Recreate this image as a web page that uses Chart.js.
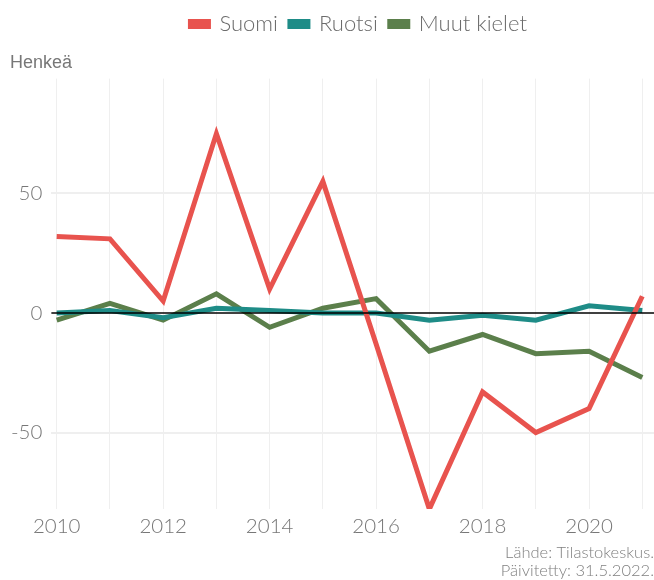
<!DOCTYPE html>
<html>
<head>
<meta charset="utf-8">
<script src="https://cdn.jsdelivr.net/npm/chart.js@4"></script>
<style>
  html, body { margin: 0; padding: 0; background: #fff; }
  #wrap { width: 654px; height: 580px; }
</style>
</head>
<body>
<div id="wrap"><canvas id="chart"></canvas></div>
<script>
var years = [2010, 2011, 2012, 2013, 2014, 2015, 2016, 2017, 2018, 2019, 2020, 2021];
var suomi = [32, 31, 5, 75, 10, 55, -13, -82, -33, -50, -40, 7];
var ruotsi = [0, 1, -2, 2, 1, 0, 0, -3, -1, -3, 3, 1];
var muut = [-3, 4, -3, 8, -6, 2, 6, -16, -9, -17, -16, -27];
var yTicks = [-50, 0, 50];

function points(vals) {
  return years.map(function (y, i) {
    return { x: y, y: vals[i] };
  });
}

var tickFont = { family: "Lato", size: 20.5, weight: 300 };
var grey = "#777";

// nollaviiva viivojen päälle, otsikko vasempaan reunaan, selite hieman oikealle
var extras = {
  id: "extras",
  afterLayout: function (chart) {
    if (chart.titleBlock) chart.titleBlock.left = 10;
    if (chart.legend) {
      chart.legend.left += 6;
      chart.legend.right += 6;
    }
  },
  afterDatasetsDraw: function (chart) {
    var ctx = chart.ctx;
    var area = chart.chartArea;
    var y0 = chart.scales.y.getPixelForValue(0);
    ctx.save();
    ctx.strokeStyle = "#000";
    ctx.lineWidth = 1.5;
    ctx.beginPath();
    ctx.moveTo(area.left, y0);
    ctx.lineTo(area.right, y0);
    ctx.stroke();
    ctx.restore();
  },
};

new Chart(document.getElementById("chart"), {
  type: "line",
  data: {
    datasets: [
      { label: "Suomi", data: points(suomi), borderColor: "#e8534e", backgroundColor: "#e8534e" },
      { label: "Ruotsi", data: points(ruotsi), borderColor: "#1e8c87", backgroundColor: "#1e8c87" },
      { label: "Muut kielet", data: points(muut), borderColor: "#5b7f4b", backgroundColor: "#5b7f4b" },
    ],
  },
  plugins: [extras],
  options: {
    responsive: true,
    maintainAspectRatio: false,
    animation: false,
    layout: { padding: { left: 2, right: 0, top: 1, bottom: 0 } },
    elements: {
      line: { borderWidth: 5, tension: 0, borderCapStyle: "butt" },
      point: { radius: 0 },
    },
    plugins: {
      legend: {
        position: "top",
        fullSize: false,
        labels: {
          boxWidth: 18,
          boxHeight: 5,
          padding: 12,
          color: "#6b6b6b",
          font: { family: "Lato", size: 22, weight: 300 },
        },
      },
      title: {
        display: true,
        text: "Henkeä",
        align: "start",
        weight: 500,
        color: "#777",
        font: { family: "Liberation Sans", size: 18, weight: "normal" },
        padding: { top: 7, bottom: 5 },
      },
      subtitle: {
        display: true,
        position: "bottom",
        align: "end",
        text: ["Lähde: Tilastokeskus.", "Päivitetty: 31.5.2022."],
        color: "#808080",
        font: { family: "Lato", size: 16.5, weight: 300, lineHeight: 1.1 },
        padding: { top: 0, bottom: 0 },
      },
      tooltip: { enabled: false },
    },
    scales: {
      x: {
        type: "linear",
        min: 2009.9,
        max: 2021.22,
        border: { display: false },
        grid: { color: "#efefef", lineWidth: 1, drawTicks: false },
        afterBuildTicks: function (axis) {
          axis.ticks = years.map(function (y) { return { value: y }; });
        },
        ticks: {
          color: grey,
          font: tickFont,
          padding: 5,
          autoSkip: false,
          maxRotation: 0,
          callback: function (v) {
            return v % 2 === 0 ? String(v) : "";
          },
        },
      },
      y: {
        min: -82,
        max: 98,
        border: { display: false },
        afterBuildTicks: function (axis) {
          axis.ticks = yTicks.map(function (v) { return { value: v }; });
        },
        grid: {
          drawTicks: false,
          color: function (ctx) {
            return ctx.tick && ctx.tick.value === 0 ? "rgba(0,0,0,0)" : "#efefef";
          },
          lineWidth: 2,
        },
        ticks: {
          color: grey,
          font: tickFont,
          padding: 9,
        },
      },
    },
  },
});
</script>
</body>
</html>
